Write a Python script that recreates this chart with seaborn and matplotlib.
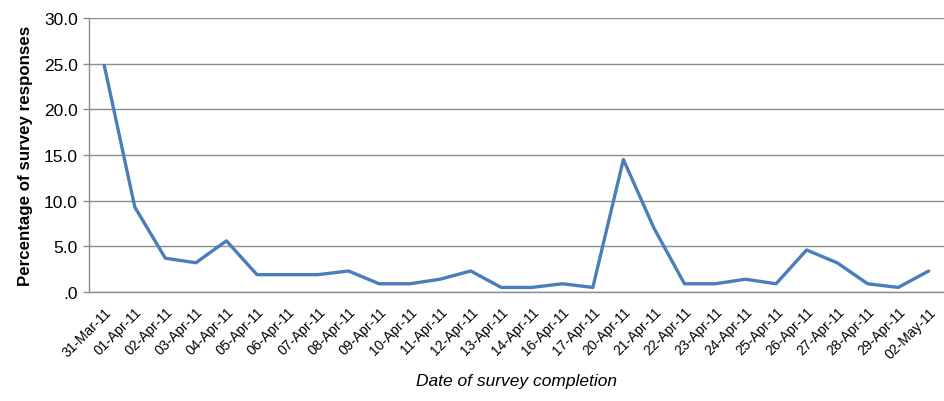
import matplotlib
matplotlib.use("Agg")
import matplotlib.pyplot as plt
import seaborn as sns
import pandas as pd
import numpy as np

dates = ["31-Mar-11", "01-Apr-11", "02-Apr-11", "03-Apr-11", "04-Apr-11", "05-Apr-11",
         "06-Apr-11", "07-Apr-11", "08-Apr-11", "09-Apr-11", "10-Apr-11", "11-Apr-11",
         "12-Apr-11", "13-Apr-11", "14-Apr-11", "16-Apr-11", "17-Apr-11", "20-Apr-11",
         "21-Apr-11", "22-Apr-11", "23-Apr-11", "24-Apr-11", "25-Apr-11", "26-Apr-11",
         "27-Apr-11", "28-Apr-11", "29-Apr-11", "02-May-11"]
percent = [24.8, 9.3, 3.7, 3.2, 5.6, 1.9, 1.9, 1.9, 2.3, 0.9, 0.9, 1.4, 2.3, 0.5,
           0.5, 0.9, 0.5, 14.5, 7.0, 0.9, 0.9, 1.4, 0.9, 4.6, 3.2, 0.9, 0.5, 2.3]
y_ticks = [0, 5, 10, 15, 20, 25, 30]
y_tick_labels = [".0", "5.0", "10.0", "15.0", "20.0", "25.0", "30.0"]

sns.set_theme(style="white")
plt.rcParams["font.family"] = ["Liberation Sans", "DejaVu Sans"]

df = pd.DataFrame({"pos": np.arange(len(dates)), "percent": percent})

fig = plt.figure(figsize=(9.45, 4.02), dpi=100)
ax = fig.add_axes([89 / 945, (402 - 293) / 402, (944 - 89) / 945, (293 - 19) / 402])

sns.lineplot(data=df, x="pos", y="percent", ax=ax, color="#4A7EBB", linewidth=2.4)

ax.set_xlim(-0.5, len(dates) - 0.5)
ax.set_ylim(0, 30)
ax.set_yticks(y_ticks)
ax.set_yticklabels(y_tick_labels, fontsize=12.5, color="#000000")
ax.yaxis.grid(True, color="#8C8C8C", linewidth=1)
ax.set_axisbelow(True)

ax.set_xticks(np.arange(len(dates)))
ax.set_xticklabels(dates, rotation=45, ha="right", rotation_mode="anchor",
                   fontsize=10, color="#000000")
ax.set_xticks(np.arange(len(dates) + 1) - 0.5, minor=True)
ax.tick_params(axis="x", which="major", length=0, pad=9)
ax.tick_params(axis="x", which="minor", length=5, width=1, color="#8C8C8C", direction="out")
ax.tick_params(axis="y", which="major", length=4, width=1, color="#8C8C8C",
               direction="out", left=True, pad=4)

for side in ["top", "right"]:
    ax.spines[side].set_visible(False)
for side in ["left", "bottom"]:
    ax.spines[side].set_color("#8C8C8C")
    ax.spines[side].set_linewidth(1)

ax.set_ylabel("Percentage of survey responses", fontsize=12.2, fontweight="bold",
              color="#000000", labelpad=8)
ax.set_xlabel("Date of survey completion", fontsize=12.5, fontstyle="italic",
              color="#000000", labelpad=9)

fig.savefig("out.png", dpi=100)
